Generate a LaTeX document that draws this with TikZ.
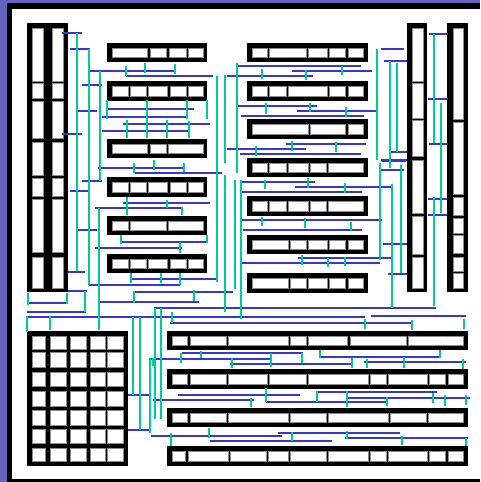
\documentclass[tikz,border=0pt]{standalone}
\definecolor{framebg}{RGB}{100,100,190}
\definecolor{wireblue}{RGB}{55,55,205}
\definecolor{wiregreen}{RGB}{0,204,153}
\tikzset{
  bw/.style={wireblue,line width=2pt},
  gw/.style={wiregreen,line width=2.4pt},
  cellbox/.style={fill=white,draw=black!45,line width=0.7pt}
}
% general block: x1 y1 x2 y2 {xcells a/b} {ycells c/d}
\newcommand\myblk[6]{%
  \fill[black] (#1,#2) rectangle (#3,#4);
  \foreach \a/\b in {#5}{\foreach \c/\d in {#6}{\path[cellbox] (\a,\c) rectangle (\b,\d);}}%
}
\begin{document}
\begin{tikzpicture}[x=1pt,y=-1pt]
\useasboundingbox (0,0) rectangle (480,482);
% frame
\fill[framebg] (0,0) rectangle (480,482);
\fill[black] (7,3) rectangle (480,482);
\fill[white] (12,9) rectangle (480,479);

% left tall block
\myblk{27}{23}{68}{292}{32/43,52/63}{28/81,83/98,101/138,142/175,178/196,199/252,257/288}
% right tall blocks
\myblk{407}{23}{427}{292}{412/423}{28/81,83/118,120/156,160/213,216/254,257/288}
\myblk{447}{23}{468}{292}{453/463}{28/119,122/194,197/215,218/233,235/253,257/271,273/288}
% bottom-left grid
\myblk{27}{331}{128}{466}{32/45,50/66,70/86,90/105,107/123}{336/349,352/367,372/386,391/406,410/425,429/443,448/461}

% left-middle column rows
\myblk{107}{43}{207}{62}{112/147,150/166,169/186,188/203}{48/57}
\myblk{107}{81}{207}{101}{112/128,130/146,148/167,170/186,188/203}{86/96}
\myblk{107}{139}{207}{158}{112/147,150/166,168/203}{144/153}
\myblk{107}{177}{207}{197}{112/128,130/146,148/167,170/186,188/203}{182/192}
\myblk{107}{216}{207}{235}{112/128,130/166,168/203}{221/230}
\myblk{107}{254}{207}{273}{112/128,130/146,148/167,170/186,188/203}{259/268}

% right-middle column rows
\myblk{247}{43}{368}{62}{252/267,269/306,308/327,329/345,348/363}{48/57}
\myblk{247}{81}{368}{101}{252/267,269/286,288/327,329/345,348/363}{86/96}
\myblk{247}{119}{368}{139}{252/308,310/345,348/363}{124/134}
\myblk{247}{158}{368}{177}{252/267,269/286,288/308,310/326,328/363}{163/172}
\myblk{247}{196}{368}{216}{252/267,269/286,288/308,310/326,328/363}{201/211}
\myblk{247}{235}{368}{254}{252/288,290/306,308/327,329/345,348/363}{240/249}
\myblk{247}{273}{368}{293}{252/288,290/306,308/327,329/345,348/363}{278/288}

% bottom wide rows
\myblk{167}{331}{468}{350}{172/187,190/226,228/288,290/306,308/347,350/406,408/463}{336/345}
\myblk{167}{369}{468}{389}{172/187,190/226,228/267,269/306,308/368,370/386,388/427,429/445,448/463}{374/384}
\myblk{167}{408}{468}{427}{172/187,190/226,228/288,290/326,328/388,390/426,428/463}{413/422}
\myblk{167}{446}{468}{466}{172/185,188/228,230/266,268/288,290/326,328/368,370/386,388/427,429/445,448/463}{451/461}

% blue horizontal wires
\foreach \y/\a/\b in {33/62/82, 49/70/90, 71/88/175, 76/126/213, 85/82/102, 109/107/194,
  111/78/97, 117/102/187, 124/123/210, 131/102/189, 134/62/82, 76/227/313, 66/237/361,
  71/292/372, 106/238/317, 111/297/377, 116/241/364, 144/286/366, 149/227/306, 154/240/361,
  49/381/404, 61/384/407, 152/390/407, 160/381/407, 170/381/404, 34/429/448, 99/428/448,
  144/429/448, 168/98/185, 173/135/222, 181/82/102, 191/70/89, 203/123/210, 208/95/182,
  230/78/97, 242/122/208, 248/95/182, 279/131/216, 272/68/85, 285/89/180, 291/68/87,
  303/27/66, 312/27/86, 317/27/365, 292/134/233, 302/99/199, 308/154/436, 182/240/315,
  187/295/392, 192/241/362, 220/240/382, 230/243/362, 258/298/392, 263/242/380,
  161/382/406, 199/428/447, 215/428/447, 244/383/407, 274/388/407, 316/371/466,
  323/170/412, 395/128/150, 430/128/151, 359/149/271, 353/182/303, 364/230/352,
  357/320/441, 362/364/466, 395/178/300, 400/153/254, 402/266/387, 392/316/437,
  398/347/470, 433/278/400, 436/151/282, 441/210/332, 438/345/468}
  {\draw[bw] (\a,\y) -- (\b,\y);}

% green vertical wires
\foreach \x/\a/\b in {77/33/271, 89/49/285, 100/71/181, 99/208/330, 107/100/119, 147/100/138,
  187/100/119, 207/100/119, 126/66/76, 145/63/73, 175/64/74, 127/120/138, 167/120/138,
  189/121/138, 217/76/282, 225/75/163, 225/175/312, 237/63/173, 235/180/289, 241/180/319,
  262/69/79, 306/70/80, 342/66/75, 266/103/114, 310/103/112, 346/107/117, 292/141/151,
  336/142/152, 256/146/156, 377/49/160, 390/61/168, 397/63/152, 434/34/143, 441/103/213,
  134/163/173, 154/160/170, 184/163/172, 127/197/215, 167/200/208, 182/207/215,
  121/235/244, 207/235/243, 180/242/253, 131/273/283, 161/273/283, 180/273/285,
  134/291/303, 194/290/301, 28/293/305, 67/293/304, 85/291/312, 27/316/332, 50/316/330,
  155/308/419, 161/308/419, 172/312/323, 140/317/430, 133/317/395, 265/180/189,
  308/178/188, 345/183/193, 262/217/226, 305/218/228, 351/222/231, 302/255/265,
  328/258/267, 345/257/266, 380/163/260, 392/184/308, 401/165/273, 434/197/306,
  365/319/329, 412/320/330, 464/319/329, 150/358/433, 153/358/366, 181/353/363,
  201/351/358, 232/358/368, 209/428/438, 171/433/446, 271/353/367, 302/353/363,
  320/350/358, 440/350/358, 352/358/368, 367/359/368, 404/357/368, 463/359/369,
  266/388/402, 251/398/407, 317/391/402, 347/391/407, 433/393/403, 445/395/406,
  466/395/405, 387/397/406, 347/431/439, 402/436/445, 466/438/446, 292/432/441}
  {\draw[gw] (\x,\a) -- (\x,\b);}
\end{tikzpicture}
\end{document}
